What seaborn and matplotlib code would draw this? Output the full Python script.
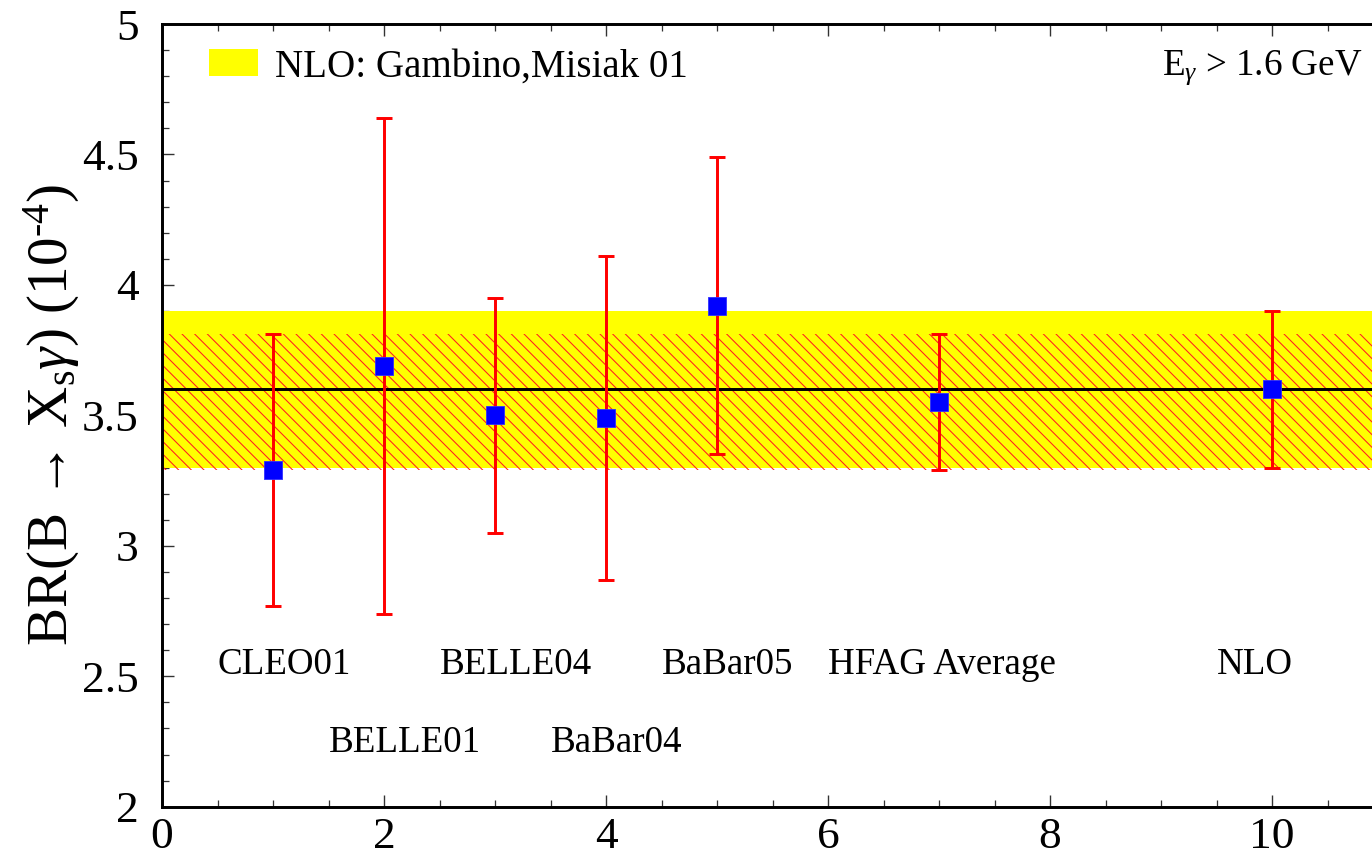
import numpy as np
import pandas as pd
import matplotlib
matplotlib.use("Agg")
import matplotlib.pyplot as plt
from matplotlib.patches import Patch
from matplotlib.ticker import MultipleLocator
import seaborn as sns

# Measurements of BR(B -> Xs gamma), E_gamma > 1.6 GeV, in units of 1e-4
experiments = ["CLEO01", "BELLE01", "BELLE04", "BaBar04", "BaBar05", "HFAG Average", "NLO"]
positions = [1, 2, 3, 4, 5, 7, 10]
br_values = [3.29, 3.69, 3.50, 3.49, 3.92, 3.55, 3.60]
err_low = [2.77, 2.74, 3.05, 2.87, 3.35, 3.29, 3.30]
err_high = [3.81, 4.64, 3.95, 4.11, 4.49, 3.81, 3.90]

# Theory band (NLO) and HFAG average hatched band
nlo_central = 3.60
nlo_band = (3.30, 3.90)
hfag_band = (3.29, 3.81)

# Label anchor positions (left edge x, y) for each experiment name
label_x = [0.5, 1.5, 2.5, 3.5, 4.5, 6.0, 9.5]
label_y = [2.545, 2.245, 2.545, 2.245, 2.545, 2.545, 2.545]

df = pd.DataFrame({"experiment": experiments, "pos": positions, "br": br_values,
                   "lo": err_low, "hi": err_high})

sns.set_theme(style="ticks")
DPI = 76
plt.rcParams["font.family"] = ["Liberation Serif", "DejaVu Serif"]
plt.rcParams["mathtext.fontset"] = "custom"
plt.rcParams["mathtext.rm"] = "Liberation Serif"
plt.rcParams["mathtext.it"] = "Liberation Serif:italic"
plt.rcParams["mathtext.default"] = "regular"
plt.rcParams["hatch.linewidth"] = 1.0
for key in ["text.color", "axes.labelcolor", "xtick.labelcolor", "ytick.labelcolor"]:
    plt.rcParams[key] = "black"

fig = plt.figure(figsize=(1372 / DPI, 854 / DPI), dpi=DPI)
ax = fig.add_axes([162 / 1372, 47.3 / 854, 1210 / 1372, 782.7 / 854])

xmin, xmax = 0, 10.9
ax.set_xlim(xmin, xmax)
ax.set_ylim(2, 5)

# NLO theory band and HFAG average hatched band
ax.fill_between([xmin, xmax], nlo_band[0], nlo_band[1], color="#ffff00", lw=0, zorder=1)
ax.fill_between([xmin, xmax], hfag_band[0], hfag_band[1], facecolor="none",
                edgecolor="#ff2020", hatch="\\\\", lw=0, zorder=2)
ax.axhline(nlo_central, color="black", lw=2.8, zorder=3)

# Error bars and central values
ax.errorbar(df["pos"], df["br"], yerr=[df["br"] - df["lo"], df["hi"] - df["br"]],
            fmt="none", ecolor="#ff0000", elinewidth=2.8, capsize=8, capthick=2.8, zorder=4)
sns.scatterplot(data=df, x="pos", y="br", marker="s", s=260, color="#0000ff",
                edgecolor="#3030ff", linewidth=0.8, zorder=5, ax=ax, legend=False)

for name, lx, ly in zip(experiments, label_x, label_y):
    ax.text(lx, ly, name, ha="left", va="center", fontsize=35, color="black", zorder=6)

ax.set_xlabel("")
ax.set_ylabel(r"BR(B → X$_{s}\mathit{γ}$) (10$^{\text{-}4}$)", fontsize=54, labelpad=0,
              color="black")

ax.xaxis.set_major_locator(MultipleLocator(2))
ax.xaxis.set_minor_locator(MultipleLocator(0.5))
ax.yaxis.set_major_locator(MultipleLocator(0.5))
ax.yaxis.set_minor_locator(MultipleLocator(0.1))
ax.set_yticks(np.arange(2, 5.01, 0.5))
ax.set_yticklabels(["2", "2.5", "3", "3.5", "4", "4.5", "5"])
ax.tick_params(axis="both", which="both", direction="in", top=True, right=False,
               labelsize=43, color="#333333", labelcolor="black")
ax.tick_params(axis="both", which="major", length=11, width=1.3)
ax.tick_params(axis="both", which="minor", length=6.5, width=1.2)
ax.tick_params(axis="x", which="major", pad=10)
ax.tick_params(axis="y", which="major", pad=22)

for side in ["top", "left", "bottom"]:
    ax.spines[side].set_linewidth(2.8)
    ax.spines[side].set_color("black")
ax.spines["right"].set_visible(False)

handle = Patch(facecolor="#ffff00", edgecolor="none")
leg = ax.legend([handle], ["NLO: Gambino,Misiak 01"], loc="upper left",
                bbox_to_anchor=(0.0388, 0.969), frameon=False, fontsize=37,
                handlelength=1.26, handleheight=0.67, handletextpad=0.44,
                borderpad=0, borderaxespad=0)
for t in leg.get_texts():
    t.set_color("black")

ax.text(0.992, 0.935, r"E$_{\mathit{γ}}$ > 1.6 GeV", transform=ax.transAxes, ha="right",
        va="baseline", fontsize=35, color="black")

fig.savefig("out.png", dpi=DPI)
